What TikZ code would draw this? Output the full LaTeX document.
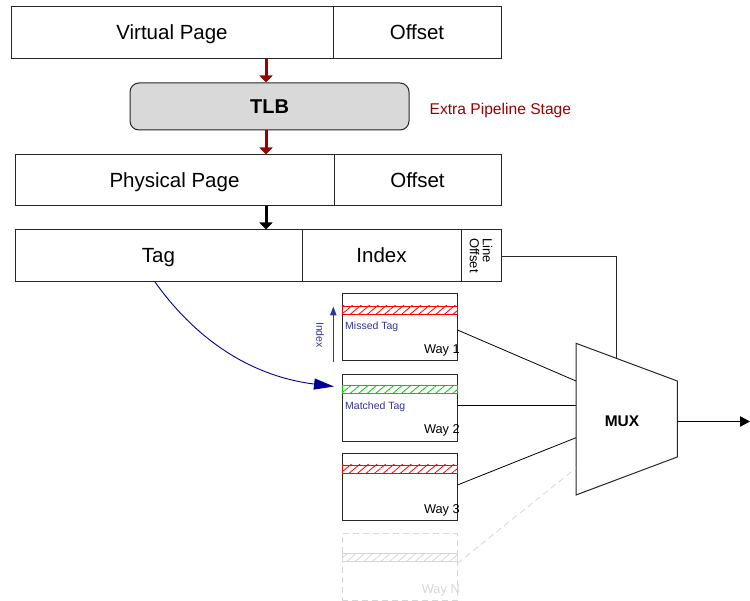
\documentclass[tikz,border=0pt]{standalone}
\usepackage{fontspec}
\setmainfont{Liberation Sans}
\usetikzlibrary{arrows.meta,patterns.meta,calc}
\definecolor{darkred}{HTML}{990000}
\definecolor{tagblue}{HTML}{333399}
\definecolor{curveblue}{HTML}{000099}
\definecolor{boxline}{HTML}{262626}
\definecolor{fadegray}{HTML}{D6D6D6}
\definecolor{tlbfill}{HTML}{D9D9D9}
\definecolor{hatchgreen}{HTML}{00CC00}

\begin{document}
\begin{tikzpicture}[x=1pt,y=-1pt,
  field/.style={draw=boxline, line width=1pt, inner sep=0pt, minimum height=52pt,
    text height=14.7pt, text depth=1.2pt, font=\fontsize{20.5}{24}\selectfont},
  waybox/.style={draw=boxline, line width=1pt, inner sep=0pt,
    minimum width=115pt, minimum height=67pt},
  hatch/.style={draw=#1, line width=0.8pt, inner sep=0pt, minimum width=115pt, minimum height=8pt,
    pattern={Lines[angle=40,distance=5.5pt,line width=0.8pt]}, pattern color=#1},
  waylabel/.style={anchor=base east, inner sep=0pt, font=\fontsize{12.8}{14}\selectfont},
  taglabel/.style={anchor=base west, inner sep=0pt, text=tagblue, font=\fontsize{10.5}{12}\selectfont},
  stagearrow/.style={line width=3pt, -{Triangle[width=13pt,length=7pt]}},
  wire/.style={draw=black, line width=0.8pt},
  fadewire/.style={draw=fadegray, line width=0.8pt, dash pattern=on 6pt off 4pt}
]
\useasboundingbox (0,0) rectangle (750,601);

% virtual address
\node[field, minimum width=322pt] (vp) at (172,33) {Virtual Page};
\node[field, minimum width=168pt] (vo) at (417,33) {Offset};

% TLB
\node[draw=boxline, line width=1pt, fill=tlbfill, rounded corners=9pt, inner sep=0pt,
  minimum width=279pt, minimum height=47pt, text height=14.4pt, text depth=0pt,
  font=\bfseries\fontsize{20}{24}\selectfont]
  (tlb) at (269.5,106.5) {TLB};
\node[anchor=base west, inner sep=0pt, text=darkred, font=\fontsize{15.6}{18}\selectfont]
  (stage) at (429.5,114.3) {Extra Pipeline Stage};

% physical address
\node[field, minimum width=319pt, minimum height=51pt] (pp) at (174.5,180.5) {Physical Page};
\node[field, minimum width=167pt, minimum height=51pt] (po) at (417.5,180.5) {Offset};

% cache address split
\node[field, minimum width=287pt] (tag) at (158.5,256) {Tag};
\node[field, minimum width=159pt] (idx) at (381.5,256) {Index};
\node[field, minimum width=40pt] (lo) at (481,256) {};
\node[rotate=-90, align=left, inner sep=0pt, font=\fontsize{13}{13}\selectfont] (lotext) at (481,255.5) {Line\\Offset};

% arrows between stages
\coordinate (ax) at (266,0);
\draw[stagearrow, darkred] (vp.south -| ax) -- (tlb.north -| ax);
\draw[stagearrow, darkred] (tlb.south -| ax) -- (pp.north -| ax);
\draw[stagearrow, black] (pp.south -| ax) -- (tag.north -| ax);

% cache ways
\node[waybox] (way1) at (399.5,327.5) {};
\node[hatch=red] (strip1) at (399.5,310) {};
\node[taglabel] (miss) at (345,329.5) {Missed Tag};
\node[waylabel] (w1l) at (460,353.5) {Way 1};

\node[waybox] (way2) at (399.5,408) {};
\node[hatch=hatchgreen] (strip2) at (399.5,389.3) {};
\node[taglabel] (match) at (345,409.5) {Matched Tag};
\node[waylabel] (w2l) at (460,434) {Way 2};

\node[waybox] (way3) at (399.5,487) {};
\node[hatch=red] (strip3) at (399.5,469) {};
\node[waylabel] (w3l) at (460,514) {Way 3};

\node[waybox, draw=fadegray, dash pattern=on 6pt off 4pt] (wayn) at (399.5,567) {};
\node[hatch=fadegray] (stripn) at (399.5,557.5) {};
\node[waylabel, text=fadegray] (wnl) at (460,593) {Way N};

% index direction
\coordinate (ib) at (333.3,361.7);
\coordinate (it) at (333.3,306.5);
\draw[draw=tagblue, line width=1.2pt, -{Triangle[width=6.5pt,length=9pt]}] (ib) -- (it);
\node[rotate=-90, inner sep=0pt, text=tagblue, font=\fontsize{10.5}{12}\selectfont] (idxlabel) at (320,335) {Index};

% tag compare
\coordinate (tagout) at (155,282);
\coordinate (hit) at (334,386.5);
\draw[draw=curveblue, line width=0.9pt, -{Triangle[width=11pt,length=20pt]}]
  (tagout) .. controls (205,352) and (265,378) .. (hit);

% multiplexer
\coordinate (m1) at (576,343.3);
\coordinate (m2) at (677.3,381);
\coordinate (m3) at (677.3,457);
\coordinate (m4) at (576,495);
\draw[line width=1pt, draw=boxline] (m1) -- (m2) -- (m3) -- (m4) -- cycle;
\node[inner sep=0pt, font=\bfseries\fontsize{15.5}{18}\selectfont] (mux) at (622,421) {MUX};

% way outputs into the multiplexer
\coordinate (i1) at (576,381);
\coordinate (i2) at (576,405.7);
\coordinate (i3) at (576,437.7);
\coordinate (i4) at (576,468);
\draw[wire] ($(way1.east)+(0,2.5)$) -- (i1);
\draw[wire] ($(way2.east)+(0,-2.3)$) -- (i2);
\draw[wire] ($(way3.east)+(0,-2)$) -- (i3);
\draw[fadewire] ($(wayn.east)+(0,-3.7)$) -- (i4);

% line offset select
\coordinate (sel) at (616.7,358.5);
\draw[wire, draw=boxline] (lo.east) -| (sel);

% result
\coordinate (mo) at (677.3,421.5);
\coordinate (out) at (750,421.5);
\draw[wire, -{Triangle[width=10.5pt,length=10pt]}] (mo) -- (out);
\end{tikzpicture}
\end{document}
